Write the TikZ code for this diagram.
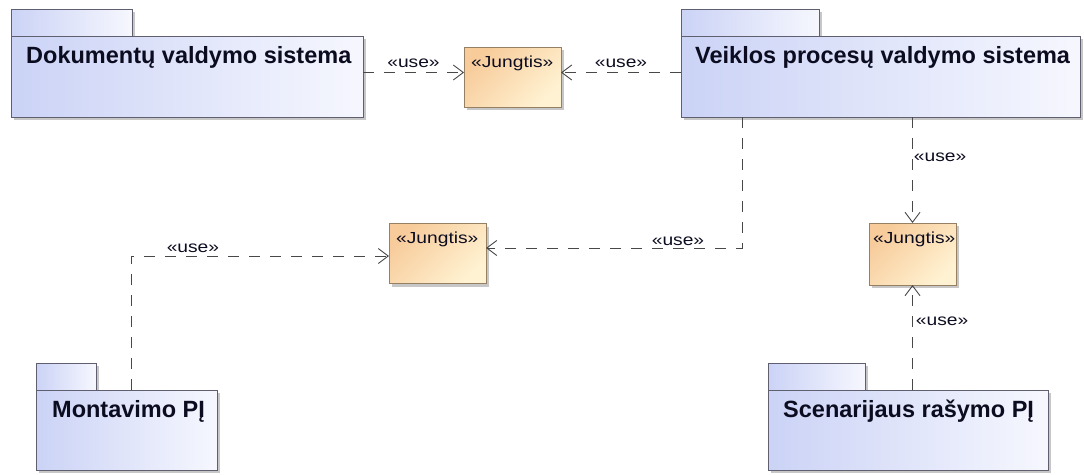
\documentclass[tikz,border=0pt]{standalone}
\usepackage{fontspec}
\setmainfont{Liberation Sans}
\usetikzlibrary{arrows.meta,shadows}

\definecolor{pkgA}{RGB}{203,211,246}
\definecolor{pkgB}{RGB}{246,247,254}
\definecolor{pkgLine}{RGB}{95,95,112}
\definecolor{ifA}{RGB}{247,203,154}
\definecolor{ifB}{RGB}{255,242,210}
\definecolor{ifLine}{RGB}{150,128,100}
\definecolor{depLine}{RGB}{72,72,72}
\definecolor{ink}{RGB}{12,12,32}

% stretched sans text used for stereotypes
\newcommand{\widetxt}[1]{\scalebox{1.2}[1]{#1}}

\tikzset{
  boxshadow/.style={drop shadow={shadow xshift=3pt,shadow yshift=-3pt,fill=black!40,opacity=0.55}},
  pkgpart/.style={draw=pkgLine,line width=0.9pt,inner sep=0pt,outer sep=0pt,
    left color=pkgA,right color=pkgB,boxshadow},
  pkgname/.style={inner sep=0pt,text=ink,font=\fontsize{23.5}{28}\selectfont\bfseries},
  iface/.style={draw=ifLine,line width=0.9pt,inner sep=0pt,outer sep=0pt,
    top color=ifA,bottom color=ifB,shading angle=45,boxshadow,
    minimum width=97pt,minimum height=60pt},
  ifname/.style={inner sep=0pt,text=ink,font=\fontsize{16}{19}\selectfont},
  dep/.style={draw=depLine,line width=0.9pt,dash pattern=on 11pt off 10pt,
    -{Straight Barb[length=10pt,width=15pt,line width=0.9pt]}},
  lbl/.style={inner sep=1pt,text=ink,font=\fontsize{16}{19}\selectfont},
}

\begin{document}
\begin{tikzpicture}[x=1pt,y=-1pt]
\useasboundingbox (0,0) rectangle (1084,474);

% packages: tab first, then body
\node[pkgpart,minimum width=121pt,minimum height=27pt] (dtab) at (71.5,22.5) {};
\node[pkgpart,minimum width=352pt,minimum height=81pt] (d) at (187,76.5) {};
\node[pkgname,anchor=base west] (dname) at ([shift={(15pt,-27pt)}]d.north west) {Dokumentų valdymo sistema};

\node[pkgpart,minimum width=138pt,minimum height=27pt] (vtab) at (750,22.5) {};
\node[pkgpart,minimum width=399pt,minimum height=81pt] (v) at (880.5,76.5) {};
\node[pkgname,anchor=base west] (vname) at ([shift={(14pt,-27pt)}]v.north west) {Veiklos procesų valdymo sistema};

\node[pkgpart,minimum width=60pt,minimum height=27pt] (mtab) at (66,376.5) {};
\node[pkgpart,minimum width=181pt,minimum height=80pt] (m) at (126.5,430) {};
\node[pkgname,anchor=base west] (mname) at ([shift={(16pt,-27pt)}]m.north west) {Montavimo PĮ};

\node[pkgpart,minimum width=97pt,minimum height=27pt] (stab) at (816.5,376.5) {};
\node[pkgpart,minimum width=280pt,minimum height=80pt] (s) at (908,430) {};
\node[pkgname,anchor=base west] (sname) at ([shift={(15pt,-27pt)}]s.north west) {Scenarijaus rašymo PĮ};

% interface components
\node[iface] (j1) at (512.5,77) {};
\node[ifname,anchor=base west] (j1name) at ([shift={(7pt,-20pt)}]j1.north west) {\widetxt{«Jungtis»}};
\node[iface] (j2) at (437.5,253.5) {};
\node[ifname,anchor=base west] (j2name) at ([shift={(7pt,-20pt)}]j2.north west) {\widetxt{«Jungtis»}};
\node[iface,minimum width=87pt,minimum height=62pt] (j3) at (912.5,254) {};
\node[ifname,anchor=base west] (j3name) at ([shift={(4pt,-20pt)}]j3.north west) {\widetxt{«Jungtis»}};

% usage dependencies
\coordinate (c1) at ([yshift=4pt]d.east);
\draw[dep] (c1) -- node[lbl,above=3pt] (u1) {\widetxt{«use»}} (c1 -| j1.west);

\coordinate (c2) at ([yshift=4pt]v.west);
\draw[dep] (c2) -- node[lbl,above=3pt] (u2) {\widetxt{«use»}} (c2 -| j1.east);

\coordinate (c3) at ([xshift=61pt]v.south west);
\coordinate (c3t) at ([yshift=5.5pt]j2.east);
\draw[dep] (c3) |- node[lbl,above=1pt,pos=0.625] (u3) {\widetxt{«use»}} (c3t);

\draw[dep] (j3.north |- v.south) -- node[lbl,right=0pt,pos=0.38] (u4) {\widetxt{«use»}} (j3.north);

\coordinate (c5) at ([xshift=95pt]m.north west);
\coordinate (c5t) at ([yshift=-2.5pt]j2.west);
\draw[dep] (c5) |- node[lbl,above=2pt,pos=0.62] (u5) {\widetxt{«use»}} (c5t);

\draw[dep] (j3.south |- s.north) -- node[lbl,right=2pt,pos=0.65] (u6) {\widetxt{«use»}} (j3.south);
\end{tikzpicture}
\end{document}
